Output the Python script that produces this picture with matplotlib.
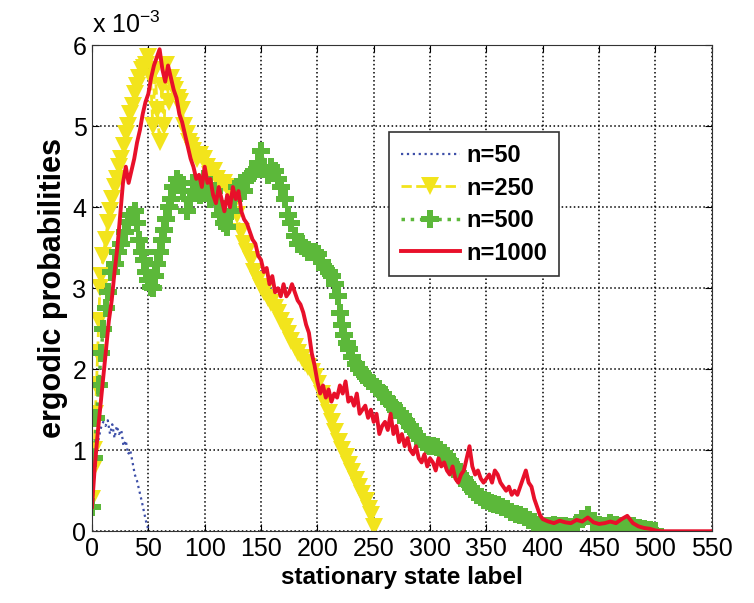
import matplotlib
matplotlib.use("Agg")
import matplotlib.pyplot as plt
import numpy as np

plt.rcParams['font.family'] = ['Liberation Sans', 'DejaVu Sans']
plt.rcParams['mathtext.default'] = 'regular'

# ergodic probabilities, in units of 1e-3
n50_x = list(range(0, 51, 2))
n50_y = [0.4, 0.7, 0.95, 1.15, 1.28, 1.35, 1.3, 1.37, 1.2, 1.32, 1.15, 1.3,
         1.2, 1.25, 1.05, 1.12, 0.95, 1.0, 0.85, 0.7, 0.62, 0.5, 0.38, 0.25,
         0.12, 0.02]

n250_x = [0, 1, 2, 3, 4, 5, 6, 7, 8, 10, 12, 14, 16, 18, 20, 22, 24, 26, 28,
          30, 32, 34, 36, 38, 40, 42, 44, 46, 48, 50, 52, 54, 56, 58, 60, 62,
          64, 66, 68, 70, 72, 74, 76, 78, 80, 82, 84, 86, 88, 90, 93, 96, 99,
          102, 105, 108, 111, 114, 117, 120, 123, 126, 129, 132, 135, 138, 141,
          144, 147, 150, 153, 156, 159, 162, 165, 168, 171, 174, 177, 180, 183,
          186, 189, 192, 195, 198, 201, 204, 207, 210, 213, 216, 219, 222, 225,
          228, 231, 234, 237, 240, 243, 246, 248, 250]
n250_y = [0.4, 0.75, 1.0, 1.45, 1.8, 2.2, 2.6, 3.0, 3.15, 3.4, 3.6, 3.8, 3.95,
          4.1, 4.25, 4.35, 4.5, 4.6, 4.75, 4.9, 5.0, 5.15, 5.25, 5.4, 5.5, 5.6,
          5.7, 5.72, 5.75, 5.85, 5.6, 5.0, 5.7, 5.2, 4.8, 5.5, 5.0, 5.75, 5.3,
          5.6, 5.5, 5.45, 5.35, 5.3, 5.2, 5.0, 4.9, 4.8, 4.75, 4.7, 4.6, 4.65,
          4.6, 4.5, 4.4, 4.45, 4.35, 4.3, 4.3, 4.25, 4.15, 4.05, 3.9, 3.7, 3.55,
          3.45, 3.35, 3.2, 3.1, 3.02, 2.95, 2.88, 2.82, 2.75, 2.7, 2.6, 2.52,
          2.43, 2.35, 2.27, 2.2, 2.14, 2.08, 2.03, 1.97, 1.9, 1.82, 1.7, 1.58,
          1.46, 1.35, 1.22, 1.1, 1.0, 0.92, 0.82, 0.73, 0.63, 0.55, 0.46, 0.37,
          0.28, 0.2, 0.05]

n500_x = [0, 2, 4, 6, 8, 10, 12, 14, 17, 20, 23, 26, 29, 32, 35, 38, 40, 42,
          44, 46, 48, 50, 52, 54, 56, 58, 60, 62, 64, 66, 68, 70, 72, 75, 78,
          81, 84, 87, 90, 93, 96, 99, 102, 105, 108, 111, 114, 117, 120, 123,
          126, 129, 132, 135, 138, 141, 144, 147, 150, 153, 156, 159, 162, 165,
          168, 171, 174, 177, 180, 183, 186, 189, 192, 195, 198, 201, 204, 207,
          210, 213, 216, 218, 220, 222, 224, 226, 228, 231, 234, 237, 240, 243,
          246, 249, 252, 255, 258, 261, 264, 267, 270, 273, 276, 279, 282, 285,
          288, 291, 294, 297, 300, 303, 306, 309, 312, 315, 318, 321, 324, 327,
          330, 333, 336, 339, 342, 345, 348, 351, 354, 357, 360, 364, 368, 372,
          376, 380, 384, 388, 392, 396, 400, 405, 410, 415, 420, 425, 430, 435,
          440, 445, 450, 455, 460, 465, 470, 475, 480, 485, 490, 495, 500]
n500_y = [0.3, 0.9, 1.4, 1.8, 2.2, 2.5, 2.75, 2.95, 3.2, 3.3, 3.45, 3.55, 3.7,
          3.82, 3.9, 3.95, 3.8, 3.6, 3.45, 3.35, 3.2, 3.1, 3.02, 3.0, 3.15, 3.3,
          3.45, 3.6, 3.72, 3.85, 4.0, 4.1, 4.25, 4.35, 4.3, 4.2, 3.95, 4.1, 4.3,
          4.2, 4.15, 4.35, 4.25, 4.1, 4.2, 4.05, 3.9, 3.8, 3.75, 3.95, 4.1,
          4.25, 4.3, 4.2, 4.35, 4.4, 4.45, 4.55, 4.7, 4.5, 4.4, 4.5, 4.45, 4.35,
          4.25, 4.1, 3.9, 3.8, 3.65, 3.55, 3.55, 3.5, 3.45, 3.45, 3.45, 3.42,
          3.32, 3.25, 3.2, 3.15, 3.05, 2.9, 2.7, 2.55, 2.42, 2.32, 2.25, 2.15,
          2.07, 2.0, 1.95, 1.9, 1.86, 1.82, 1.78, 1.75, 1.7, 1.65, 1.6, 1.56,
          1.5, 1.46, 1.42, 1.36, 1.3, 1.25, 1.18, 1.14, 1.1, 1.07, 1.05, 1.05,
          1.04, 1.0, 0.97, 0.93, 0.87, 0.8, 0.75, 0.7, 0.64, 0.58, 0.53, 0.49,
          0.45, 0.42, 0.39, 0.37, 0.35, 0.34, 0.33, 0.3, 0.27, 0.24, 0.21, 0.2,
          0.18, 0.14, 0.11, 0.08, 0.06, 0.07, 0.08, 0.07, 0.06, 0.05, 0.1, 0.15,
          0.2, 0.12, 0.08, 0.06, 0.1, 0.08, 0.06, 0.05, 0.06, 0.04, 0.03, 0.02,
          0.0]

n1000_x = np.concatenate([np.arange(0, 400.1, 2.5), np.arange(405, 551, 5)])
n1000_y = [0.3, 0.8, 1.2, 1.55, 1.9, 2.25, 2.6, 2.85, 3.2, 3.5,
           3.9, 4.3, 4.5, 4.3, 4.45, 4.6, 4.8, 4.95, 5.15, 5.3,
           5.4, 5.6, 5.75, 5.85, 5.95, 5.7, 5.55, 5.75, 5.6, 5.45,
           5.35, 5.15, 5.05, 4.9, 4.75, 4.6, 4.5, 4.35, 4.4, 4.25,
           4.5, 4.3, 4.35, 4.15, 4.05, 4.25, 4.1, 3.95, 4.15, 4.0,
           4.25, 4.1, 4.2, 3.95, 3.85, 3.8, 3.7, 3.6, 3.55, 3.4,
           3.35, 3.2, 3.25, 3.05, 3.15, 2.95, 3.0, 2.9, 3.05, 2.9,
           2.95, 3.05, 2.95, 2.85, 2.8, 2.7, 2.55, 2.45, 2.2, 2.05,
           1.85, 1.7, 1.8, 1.65, 1.75, 1.6, 1.7, 1.65, 1.8, 1.7,
           1.85, 1.6, 1.65, 1.55, 1.7, 1.45, 1.5, 1.55, 1.4, 1.5,
           1.35, 1.45, 1.2, 1.3, 1.35, 1.25, 1.45, 1.2, 1.3, 1.1,
           1.2, 1.05, 1.15, 1.0, 0.95, 1.05, 0.9, 0.85, 0.95, 0.8,
           0.9, 0.85, 0.75, 0.9, 0.8, 0.85, 0.75, 0.7, 0.8, 0.65,
           0.6, 0.7, 0.75, 0.9, 1.05, 0.8, 0.7, 0.75, 0.65, 0.6,
           0.65, 0.7, 0.6, 0.75, 0.7, 0.6, 0.55, 0.5, 0.55, 0.45,
           0.5, 0.45, 0.55, 0.65, 0.75, 0.6, 0.55, 0.4, 0.3, 0.2,
           0.15,
           0.12, 0.1, 0.13, 0.11, 0.1, 0.14, 0.12, 0.17, 0.11, 0.09,
           0.1, 0.12, 0.1, 0.15, 0.19, 0.1, 0.06, 0.04, 0.03, 0.01,
           0.0, 0.0, 0.0, 0.0, 0.0, 0.0, 0.0, 0.0, 0.0, 0.0]

x_ticks = list(range(0, 551, 50))
y_ticks = [0, 1, 2, 3, 4, 5, 6]

fig = plt.figure(figsize=(7.54, 6.03), dpi=100)
ax = fig.add_axes([0.122, 0.119, 0.822, 0.806])

ax.plot(n50_x, n50_y, linestyle=':', color='#3d4fa8', lw=1.6, label='n=50')
ax.plot(n250_x, n250_y, linestyle='--', color='#f2e41c', lw=2, marker='v',
        markersize=13, markeredgewidth=0, label='n=250')
ax.plot(n500_x, n500_y, linestyle=':', color='#5cb83a', lw=2.5, marker='P',
        markersize=13, markeredgewidth=0, label='n=500')
ax.plot(n1000_x, n1000_y, linestyle='-', color='#e8102a', lw=2.8, label='n=1000')

ax.set_xlim(0, 550)
ax.set_ylim(0, 6)
ax.set_xticks(x_ticks)
ax.set_yticks(y_ticks)
ax.tick_params(direction='in', labelsize=18, top=True, right=True, length=5, pad=4)
ax.grid(True, linestyle=':', color='black', lw=1.1)
for s in ax.spines.values():
    s.set_color('#333333')

ax.text(0.0, 1.015, r'x 10$^{-3}$', transform=ax.transAxes, fontsize=18,
        ha='left', va='bottom')

ax.set_xlabel('stationary state label', fontsize=17.5, fontweight='bold', labelpad=4)
ax.set_ylabel('ergodic probabilities', fontsize=22, fontweight='bold', labelpad=3)

leg = ax.legend(loc='upper left', bbox_to_anchor=(0.46, 0.845),
                prop={'weight': 'bold', 'size': 17}, handlelength=2.5,
                labelspacing=0.4, borderpad=0.5, handletextpad=0.3,
                fancybox=False, framealpha=1, edgecolor='#333333')
leg.get_frame().set_linewidth(1.2)

fig.savefig('out.png', dpi=100)
